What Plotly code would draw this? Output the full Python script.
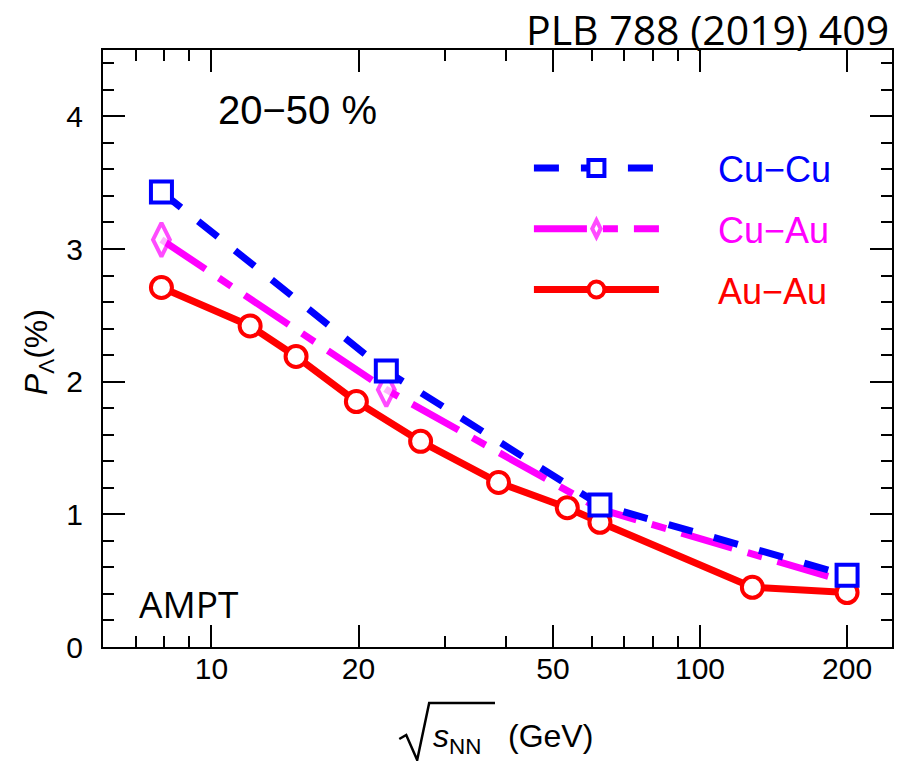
import plotly.graph_objects as go

# ---- data ----
auau_x = [7.9, 12.0, 14.9, 19.8, 26.8, 38.7, 53.5, 62.4, 128, 200]
auau_y = [2.71, 2.42, 2.19, 1.85, 1.55, 1.24, 1.05, 0.94, 0.45, 0.41]
cuau_x = [7.9, 22.8, 62.4, 200]
cuau_y = [3.07, 1.94, 1.04, 0.49]
cucu_x = [7.9, 22.8, 62.4, 200]
cucu_y = [3.43, 2.08, 1.07, 0.54]
x_ticks = [10, 20, 50, 100, 200]
x_minor = [7, 8, 9, 30, 40, 60, 70, 80, 90]

W, H = 904, 761
ML, MR, MT, MB = 103, 10, 50, 114
PW, PH = W - ML - MR, H - MT - MB


def px(x):
    return (x - ML) / PW


def py(y):
    return (H - MB - y) / PH


BLUE, MAG, RED = "#0000FF", "#FF00FF", "#FF0000"
ESP = "\u2003\u2002"


def lname(txt, col):
    return ESP + f"<span style='color:{col}'>{txt}</span>"


fig = go.Figure()
fig.add_trace(go.Scatter(
    x=auau_x, y=auau_y, mode="lines+markers", name=lname("Au\u2212Au", RED),
    legendrank=3, legendgroup="c",
    line=dict(color=RED, width=7),
    marker=dict(symbol="circle", size=21, color="white", line=dict(color=RED, width=4)),
))
fig.add_trace(go.Scatter(
    x=cuau_x, y=cuau_y, mode="lines+markers", name=lname("Cu\u2212Au", MAG),
    legendrank=2, legendgroup="b",
    line=dict(color=MAG, width=7, dash="53px,16px,15px,16px"),
    marker=dict(symbol="diamond-tall", size=[24, 24, 0, 0], color="white",
                line=dict(color=MAG, width=4)),
))
fig.add_trace(go.Scatter(
    x=cucu_x, y=cucu_y, mode="lines+markers", name=lname("Cu\u2212Cu", BLUE),
    legendrank=1, legendgroup="a",
    line=dict(color=BLUE, width=7, dash="25px,22px"),
    marker=dict(symbol="square", size=21, color="white", line=dict(color=BLUE, width=4)),
))

axis_common = dict(
    showline=True, linecolor="black", linewidth=2, mirror="allticks",
    ticks="inside", tickcolor="black", tickwidth=2, ticklen=22,
    showgrid=False, zeroline=False,
    tickfont=dict(family="Liberation Sans, Arial", size=30, color="black"),
)

fig.update_xaxes(
    type="log", range=[0.778, 2.393],
    tickmode="array", tickvals=x_ticks, ticktext=[str(v) for v in x_ticks],
    minor=dict(tickmode="array", tickvals=x_minor, ticks="inside", ticklen=11,
               tickwidth=2, tickcolor="black", showgrid=False),
    ticklabelstandoff=-6,
    **axis_common,
)
fig.update_yaxes(
    range=[0, 4.5], tickmode="linear", tick0=0, dtick=1,
    minor=dict(dtick=0.2, ticks="inside", ticklen=11, tickwidth=2,
               tickcolor="black", showgrid=False),
    ticklabelstandoff=12,
    **axis_common,
)

annotations = [
    dict(text="20\u221250 %", x=px(298), y=py(110), xanchor="center", yanchor="middle",
         font=dict(family="Liberation Sans, Arial", size=40, color="black")),
    dict(text="AMPT", x=px(137), y=py(603), xanchor="left", yanchor="middle",
         font=dict(family="Open Sans", size=37, color="black")),
    dict(text="PLB 788 (2019) 409", x=px(893), y=py(29), xanchor="right", yanchor="middle",
         font=dict(family="Open Sans", size=41, color="black")),
    dict(text="<i>P</i><sub>\u039b</sub>(%)", x=px(38), y=py(352), xanchor="center",
         yanchor="middle", textangle=-90,
         font=dict(family="Liberation Sans, Arial", size=32, color="black")),
    dict(text="<i>s</i><sub>NN</sub>\u00a0\u00a0\u00a0(GeV)", x=px(432), y=py(738),
         xanchor="left", yanchor="middle",
         font=dict(family="Liberation Sans, Arial", size=32, color="black")),
]
for a in annotations:
    a.update(xref="paper", yref="paper", showarrow=False)

# radical sign of the x-axis title
rad = [(400, 739), (407, 735), (418, 760), (430, 703), (496, 703)]
path = "M " + " L ".join(f"{px(a):.4f},{py(b):.4f}" for a, b in rad)
shapes = [dict(type="path", path=path, xref="paper", yref="paper",
               line=dict(color="black", width=2.5))]

fig.update_layout(
    width=W, height=H, margin=dict(l=ML, r=MR, t=MT, b=MB),
    paper_bgcolor="white", plot_bgcolor="white",
    showlegend=True,
    legend=dict(x=px(530), y=py(138), xanchor="left", yanchor="top",
                bgcolor="rgba(0,0,0,0)", itemwidth=125, tracegroupgap=11,
                font=dict(family="Liberation Sans, Arial", size=36),
                itemsizing="trace"),
    annotations=annotations, shapes=shapes,
)

fig.write_html("out.html")
